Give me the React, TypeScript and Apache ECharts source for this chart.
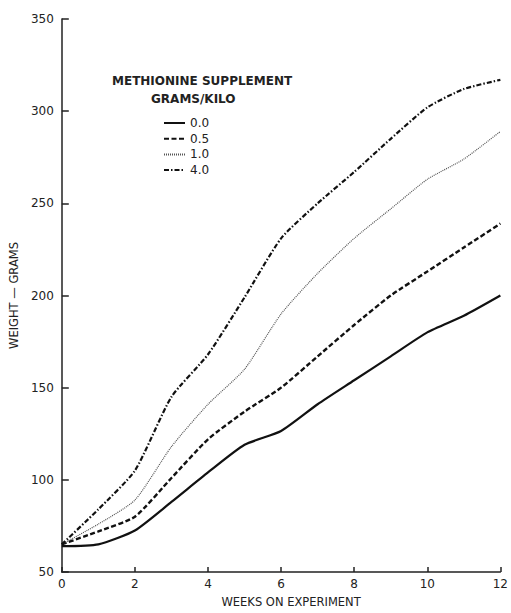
import React, { useEffect, useRef } from "react";
import * as echarts from "echarts";

const weeks = [0, 1, 2, 3, 4, 5, 6, 7, 8, 9, 10, 11, 12];
const seriesNames = ["0.0", "0.5", "1.0", "4.0"];
const s00 = [64, 65, 72.5, 88, 104, 119, 126.5, 141, 154, 167, 180, 189, 200];
const s05 = [65, 72, 80, 101, 122, 137, 150, 167, 184, 200, 213, 226, 239];
const s10 = [65, 76, 89, 118, 141, 160, 190, 212, 231, 247, 263, 274, 289];
const s40 = [65, 84, 105, 145, 168, 199, 231, 250, 267, 285, 302, 312, 317];
const yTicks = [50, 100, 150, 200, 250, 300, 350];

const FONT = "DejaVu Sans";

export default function App() {
  const ref = useRef<HTMLDivElement>(null);
  useEffect(() => {
    if (!ref.current) return;
    const chart = echarts.init(ref.current, undefined, { renderer: "svg" });
    const pair = (arr: number[]) => weeks.map((w, i) => [w, arr[i]]);
    const styles: any[] = [
      { color: "#111", width: 2.2, type: "solid" },
      { color: "#111", width: 2.4, type: [5, 2.5] },
      { color: "#555", width: 1.2, type: [1, 1] },
      { color: "#111", width: 2.2, type: [5, 2, 1.5, 2] },
    ];
    const data = [s00, s05, s10, s40];
    chart.setOption({
      animation: false,
      backgroundColor: "#fff",
      grid: { left: 56, right: 8, top: 19, bottom: 35, containLabel: false },
      xAxis: {
        type: "value",
        min: 0,
        max: 12,
        interval: 2,
        name: "WEEKS ON EXPERIMENT",
        nameLocation: "middle",
        nameGap: 24,
        nameTextStyle: { fontFamily: FONT, fontSize: 11.5, color: "#222", padding: [0, 0, 0, 20] },
        axisLine: { lineStyle: { color: "#222", width: 1.5 } },
        axisTick: { inside: true, length: 5, lineStyle: { color: "#222", width: 1.5 } },
        axisLabel: { fontFamily: FONT, fontSize: 12, color: "#222", margin: 6 },
        splitLine: { show: false },
      },
      yAxis: {
        type: "value",
        min: yTicks[0],
        max: yTicks[yTicks.length - 1],
        interval: 50,
        name: "WEIGHT — GRAMS",
        nameLocation: "middle",
        nameGap: 40,
        nameRotate: 90,
        nameTextStyle: { fontFamily: FONT, fontSize: 11.5, color: "#222" },
        axisLine: { show: true, lineStyle: { color: "#222", width: 1.5 } },
        axisTick: { show: true, inside: true, length: 7, lineStyle: { color: "#222", width: 1.5 } },
        axisLabel: { fontFamily: FONT, fontSize: 12, color: "#222", margin: 8 },
        splitLine: { show: false },
      },
      legend: {
        orient: "vertical",
        left: 158,
        top: 112,
        itemWidth: 21,
        itemHeight: 8,
        itemGap: 3.7,
        itemStyle: { opacity: 0, borderWidth: 0 },
        textStyle: { fontFamily: FONT, fontSize: 12, color: "#222" },
        data: seriesNames,
      },
      graphic: [
        {
          type: "text",
          left: 112,
          top: 75,
          style: { text: "METHIONINE SUPPLEMENT", fontFamily: FONT, fontSize: 12, fontWeight: "bold", fill: "#222" },
        },
        {
          type: "text",
          left: 151,
          top: 93,
          style: { text: "GRAMS/KILO", fontFamily: FONT, fontSize: 12, fontWeight: "bold", fill: "#222" },
        },
      ],
      series: data.map((arr, i) => ({
        name: seriesNames[i],
        type: "line",
        data: pair(arr),
        showSymbol: false,
        symbol: "none",
        smooth: 0.2,
        lineStyle: styles[i],
        itemStyle: { color: styles[i].color },
      })),
    });
    return () => chart.dispose();
  }, []);
  return <div ref={ref} style={{ width: 511, height: 613, position: "absolute", left: 0, top: 0 }} />;
}
